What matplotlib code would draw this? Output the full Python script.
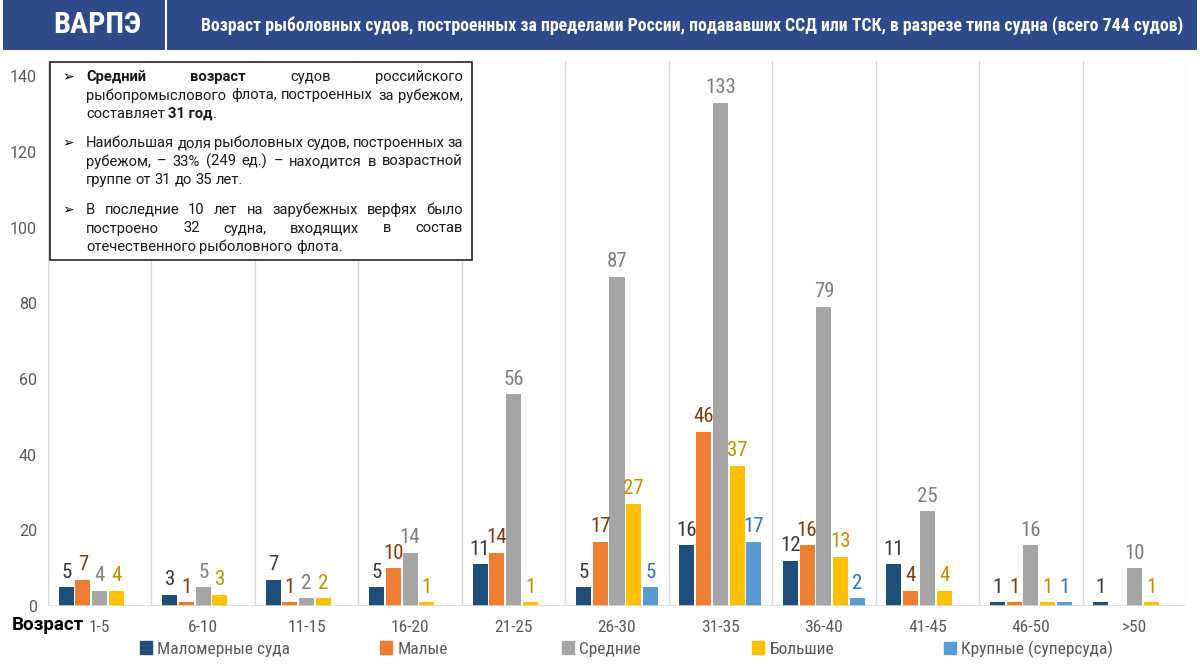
import numpy as np
import matplotlib
matplotlib.use('Agg')
import matplotlib.pyplot as plt
from matplotlib.patches import Rectangle
from matplotlib import font_manager

# --- data ---
age_groups = ['1-5', '6-10', '11-15', '16-20', '21-25', '26-30', '31-35', '36-40', '41-45', '46-50', '>50']
series_names = ['Маломерные суда', 'Малые', 'Средние', 'Большие', 'Крупные (суперсуда)']
malomernye = [5, 3, 7, 5, 11, 5, 16, 12, 11, 1, 1]
malye = [7, 1, 1, 10, 14, 17, 46, 16, 4, 1, np.nan]
srednie = [4, 5, 2, 14, 56, 87, 133, 79, 25, 16, 10]
bolshie = [4, 3, 2, 1, 1, 27, 37, 13, 4, 1, 1]
krupnye = [np.nan, np.nan, np.nan, np.nan, np.nan, 5, 17, 2, np.nan, 1, np.nan]
series_values = [malomernye, malye, srednie, bolshie, krupnye]

title = 'Возраст рыболовных судов, построенных за пределами России, подававших ССД или ТСК, в разрезе типа судна (всего 744 судов)'

bar_colors = ['#1F4E79', '#ED7D31', '#A5A5A5', '#FFC000', '#5B9BD5']
label_colors = ['#3A3A3A', '#843C0C', '#7F7F7F', '#BF9000', '#2E75B6']

# pick a narrow font if one is installed
names = sorted({f.name for f in font_manager.fontManager.ttflist})
narrow = None
for cand in ['Liberation Sans Narrow', 'Roboto Condensed', 'Open Sans Condensed', 'Noto Sans Condensed',
             'DejaVu Sans Condensed']:
    if cand in names:
        narrow = cand
        break
if narrow is None:
    extra = [n for n in names if 'Narrow' in n or 'Condensed' in n]
    narrow = extra[0] if extra else 'Roboto'
plt.rcParams['font.family'] = [narrow, 'DejaVu Sans']

W, H = 1200, 672
fig = plt.figure(figsize=(W / 100, H / 100), dpi=100)
renderer = fig.canvas.get_renderer()

def fx(px):
    return px / W

def fy(py):
    return 1 - py / H

def fit_width(t, target):
    # shrink/grow font so the text spans target pixels
    w = t.get_window_extent(renderer).width
    t.set_fontsize(t.get_fontsize() * target / w)

# --- header banner ---
fig.patches.append(Rectangle((fx(3), fy(50)), fx(1194), 50 / H, transform=fig.transFigure,
                             facecolor='#2D4A8A', edgecolor='none', zorder=0))
fig.lines.append(plt.Line2D([fx(166), fx(166)], [fy(1), fy(50)], transform=fig.transFigure,
                            color='white', lw=1.5))
logo = fig.text(fx(97), fy(25), 'ВАРПЭ', color='white', fontsize=19, fontweight='bold',
                ha='center', va='center')
fit_width(logo, 88)
ttl = fig.text(fx(201), fy(26), title, color='white', fontsize=12.5, fontweight='bold',
               ha='left', va='center')
fit_width(ttl, 985)

# --- bar chart ---
ax = fig.add_axes([fx(48), fy(606), fx(1186 - 48), (606 - 61) / H])
n = len(age_groups)
x = np.arange(n)
bw = 0.145
offsets = (np.arange(5) - 2) * 0.162
for i, vals in enumerate(series_values):
    v = np.array(vals, dtype=float)
    ax.bar(x + offsets[i], np.nan_to_num(v), width=bw, color=bar_colors[i], zorder=2)
    for xi, val in zip(x + offsets[i], v):
        if not np.isnan(val):
            ax.annotate(f'{int(val)}', (xi, val), xytext=(0, 4), textcoords='offset points',
                        ha='center', va='bottom', fontsize=15, color=label_colors[i])

ax.set_xlim(-0.5, n - 0.5)
ax.set_ylim(0, 144)
ax.set_yticks(np.arange(0, 141, 20))
for b in np.arange(-0.5, n, 1.0):
    ax.axvline(b, color='#D9D9D9', lw=1, zorder=1)
for s in ax.spines.values():
    s.set_visible(False)
ax.axhline(0, color='#D9D9D9', lw=1.2, zorder=3)
ax.set_xticks(x)
ax.set_xticklabels(age_groups, fontsize=12.5, color='#595959')
ax.tick_params(axis='both', length=0)
ax.tick_params(axis='x', pad=10)
ax.tick_params(axis='y', pad=8, labelsize=11.5, labelcolor='#595959')
for t in ax.get_yticklabels():
    t.set_family(['Roboto', 'DejaVu Sans'])

fig.text(fx(12), fy(625), 'Возраст', fontsize=13.5, fontweight='bold', ha='left', va='center',
         family=['Roboto', 'DejaVu Sans'], color='black')

# --- legend ---
leg_x = [140, 380, 562, 752, 944]
for i, name in enumerate(series_names):
    h = Rectangle((0, 0), 1, 1, color=bar_colors[i])
    leg = fig.legend([h], [name], loc='center left', bbox_to_anchor=(fx(leg_x[i]), fy(649)),
                     frameon=False, fontsize=12.5, handlelength=0.7, handleheight=0.7,
                     handletextpad=0.3, borderpad=0, borderaxespad=0)
    for t in leg.get_texts():
        t.set_color('#595959')

# --- text box ---
fig.patches.append(Rectangle((fx(50), fy(260)), fx(422), 198 / H, transform=fig.transFigure,
                             facecolor='white', edgecolor='#222222', lw=1.2, zorder=5))

paragraphs = [
    [[('Средний', True), ('возраст', True), ('судов', False), ('российского', False)],
     [('рыбопромыслового', False), ('флота,', False), ('построенных', False), ('за', False), ('рубежом,', False)],
     [('составляет', False), ('31 год', True), ('.', False)]],
    [[('Наибольшая', False), ('доля', False), ('рыболовных', False), ('судов,', False), ('построенных', False), ('за', False)],
     [('рубежом,', False), ('–', False), ('33%', False), ('(249', False), ('ед.)', False), ('–', False), ('находится', False), ('в', False), ('возрастной', False)],
     [('группе', False), ('от', False), ('31', False), ('до', False), ('35', False), ('лет.', False)]],
    [[('В', False), ('последние', False), ('10', False), ('лет', False), ('на', False), ('зарубежных', False), ('верфях', False), ('было', False)],
     [('построено', False), ('32', False), ('судна,', False), ('входящих', False), ('в', False), ('состав', False)],
     [('отечественного', False), ('рыболовного', False), ('флота.', False)]],
]
para_y = [77, 143, 210]
line_h = 18.5
text_left, text_right = 86, 463
box_font = ['Roboto', 'DejaVu Sans']
box_fs = 10.6
for p, lines in enumerate(paragraphs):
    fig.text(fx(62), fy(para_y[p]), '➢', fontsize=10, ha='left', va='center',
             family=['DejaVu Sans'], zorder=6)
    for li, words in enumerate(lines):
        y = fy(para_y[p] + li * line_h)
        items = []
        for w, bold in words:
            t = fig.text(0, y, w, fontsize=box_fs, fontweight='bold' if bold else 'normal',
                         family=box_font, ha='left', va='center', color='#1A1A1A', zorder=6)
            items.append(t)
        widths = [t.get_window_extent(renderer).width for t in items]
        last = li == len(lines) - 1
        space = 3.5
        if not last and len(items) > 1:
            space = max(3.0, (text_right - text_left - sum(widths)) / (len(items) - 1))
        pos = text_left
        for k, (t, w) in enumerate(zip(items, widths)):
            if last and words[k][0] == '.':
                pos -= space
            t.set_x(fx(pos))
            pos += w + space

fig.savefig('out.png', dpi=100)
